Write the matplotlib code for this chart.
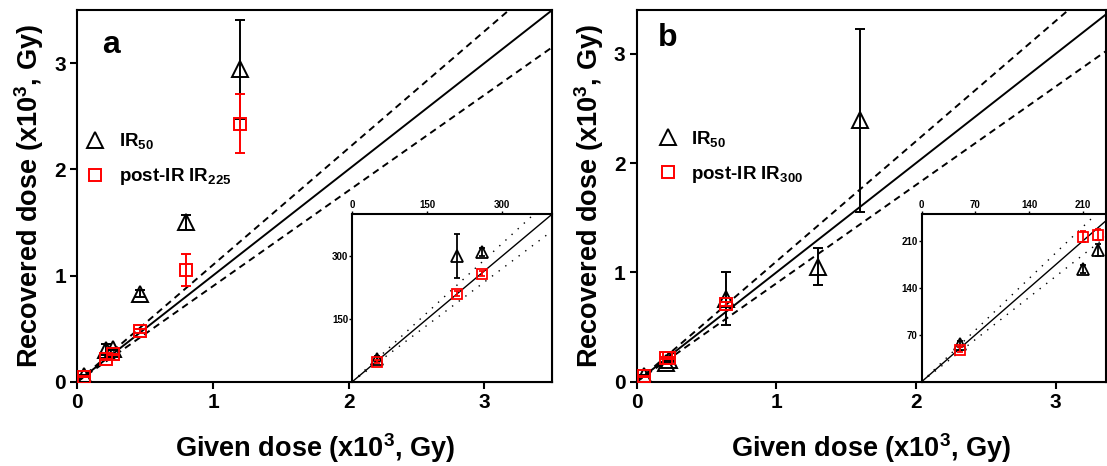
import matplotlib
matplotlib.use("Agg")
import matplotlib.pyplot as plt
import numpy as np

plt.rcParams['font.family'] = ['Liberation Sans', 'DejaVu Sans']
plt.rcParams['font.weight'] = 'bold'
plt.rcParams['mathtext.fontset'] = 'custom'
plt.rcParams['mathtext.rm'] = 'Liberation Sans:bold'
plt.rcParams['mathtext.bf'] = 'Liberation Sans:bold'
plt.rcParams['mathtext.it'] = 'Liberation Sans:bold'
plt.rcParams['mathtext.default'] = 'bf'

# ---------------- data (x10^3 Gy) ----------------
# panel a
given_a = [0.05, 0.21, 0.26, 0.46, 0.80, 1.20]
ir50_a = [0.055, 0.30, 0.31, 0.83, 1.50, 2.94]
ir50_a_err = [0.006, 0.052, 0.010, 0.03, 0.07, 0.47]
pir_a = [0.048, 0.21, 0.257, 0.48, 1.05, 2.43]
pir_a_err = [0.004, 0.006, 0.006, 0.02, 0.15, 0.28]
label_a = 'post-IR IR$_{225}$'

# panel b
given_b = [0.05, 0.21, 0.23, 0.64, 1.30, 1.60]
ir50_b = [0.056, 0.168, 0.197, 0.76, 1.05, 2.39]
ir50_b_err = [0.005, 0.006, 0.009, 0.24, 0.17, 0.84]
given_b_pir = [0.05, 0.21, 0.23, 0.64]
pir_b = [0.048, 0.216, 0.219, 0.71]
pir_b_err = [0.003, 0.008, 0.008, 0.02]
label_b = 'post-IR IR$_{300}$'

n_inset = 3  # first three points shown in Gy in the insets

main_xticks = [0, 1, 2, 3]
main_yticks = [0, 1, 2, 3]
inset_a_xticks = [0, 150, 300]
inset_a_yticks = [150, 300]
inset_b_xticks = [0, 70, 140, 210]
inset_b_yticks = [70, 140, 210]

W, H = 1107, 466
fig = plt.figure(figsize=(W / 100, H / 100), dpi=100)


def fr(l, r, t, b):
    return [l / W, 1 - b / H, (r - l) / W, (b - t) / H]


def style_main(ax, xmax, ymax):
    ax.set_xlim(0, xmax)
    ax.set_ylim(0, ymax)
    ax.set_xticks(main_xticks)
    ax.set_yticks(main_yticks)
    for s in ax.spines.values():
        s.set_linewidth(1.5)
    ax.tick_params(direction='out', length=5, width=1.5, labelsize=15, pad=3)
    for lab in ax.get_xticklabels() + ax.get_yticklabels():
        lab.set_fontweight('bold')
    ax.set_xlabel('Given dose (x10$^3$, Gy)', fontsize=19.5, fontweight='bold', labelpad=14)
    ax.set_ylabel('Recovered dose (x10$^3$, Gy)', fontsize=19.5, fontweight='bold', labelpad=6)


def ref_lines(ax, xmax, lw=1.4, dashed=(0, (3.5, 2.5))):
    xx = np.array([0, xmax * 1.2])
    ax.plot(xx, xx, color='black', lw=lw, zorder=1)
    ax.plot(xx, 1.1 * xx, color='black', lw=lw, ls=dashed, zorder=1)
    ax.plot(xx, 0.9 * xx, color='black', lw=lw, ls=dashed, zorder=1)


def data(ax, gx, y1, e1, gx2, y2, e2, scale=1.0, ms_t=12, ms_s=9, cap=3.5, lw=1.4):
    gx = np.asarray(gx) * scale
    gx2 = np.asarray(gx2) * scale
    ax.errorbar(gx, np.asarray(y1) * scale, yerr=np.asarray(e1) * scale, fmt='^',
                ms=ms_t, mfc='none', mec='black', mew=lw, ecolor='black',
                elinewidth=lw, capsize=cap, capthick=lw, zorder=3)
    ax.errorbar(gx2, np.asarray(y2) * scale, yerr=np.asarray(e2) * scale, fmt='s',
                ms=ms_s, mfc='none', mec='red', mew=lw, ecolor='red',
                elinewidth=lw, capsize=cap, capthick=lw, zorder=4)


def inset(axin, xmax, ymax, xt, yt):
    axin.set_xlim(0, xmax)
    axin.set_ylim(0, ymax)
    axin.set_xticks(xt)
    axin.set_yticks(yt)
    axin.xaxis.tick_top()
    axin.xaxis.set_label_position('top')
    for s in axin.spines.values():
        s.set_linewidth(1.5)
    axin.tick_params(direction='out', length=2, width=1, labelsize=7, pad=1)
    axin.set_facecolor('white')
    xx = np.array([0, xmax * 1.2])
    axin.plot(xx, xx, color='black', lw=1.0, zorder=1)
    axin.plot(xx, 1.1 * xx, color='black', lw=1.0, ls=(0, (1, 5)), zorder=1)
    axin.plot(xx, 0.9 * xx, color='black', lw=1.0, ls=(0, (1, 5)), zorder=1)


def legend(ax, x, y, label2):
    h1 = ax.plot([], [], '^', ms=12, mfc='none', mec='black', mew=1.4)[0]
    h2 = ax.plot([], [], 's', ms=9, mfc='none', mec='red', mew=1.4)[0]
    ax.legend([h1, h2], ['IR$_{50}$', label2], loc='upper left', bbox_to_anchor=(x, y),
              frameon=False, fontsize=13.5, handlelength=1.0, handletextpad=0.75,
              labelspacing=0.8, borderaxespad=0, borderpad=0)


# ---------- panel a ----------
axa = fig.add_axes(fr(77.3, 552.3, 10, 381.7))
ref_lines(axa, 3.5)
data(axa, given_a, ir50_a, ir50_a_err, given_a, pir_a, pir_a_err)
style_main(axa, 3.5, 3.5)
legend(axa, 0.018, 0.674, label_a)
axa.text(0.052, 0.905, 'a', transform=axa.transAxes, fontsize=23, fontweight='bold',
         va='center', ha='left')

ina = fig.add_axes(fr(352.3, 552.3, 214, 381.7))
inset(ina, 400, 400, inset_a_xticks, inset_a_yticks)
data(ina, given_a[:n_inset], ir50_a[:n_inset], ir50_a_err[:n_inset],
     given_a[:n_inset], pir_a[:n_inset], pir_a_err[:n_inset], scale=1000,
     ms_t=9, ms_s=7, cap=2.5, lw=1.3)

# ---------- panel b ----------
axb = fig.add_axes(fr(636.7, 1106, 10, 381.7))
ref_lines(axb, 3.36)
data(axb, given_b, ir50_b, ir50_b_err, given_b_pir, pir_b, pir_b_err)
style_main(axb, 3.36, 3.4)
legend(axb, 0.046, 0.68, label_b)
axb.text(0.045, 0.925, 'b', transform=axb.transAxes, fontsize=23, fontweight='bold',
         va='center', ha='left')

inb = fig.add_axes(fr(921.7, 1106, 214, 381.7))
inset(inb, 240, 250, inset_b_xticks, inset_b_yticks)
data(inb, given_b[:n_inset], ir50_b[:n_inset], ir50_b_err[:n_inset],
     given_b_pir[:n_inset], pir_b[:n_inset], pir_b_err[:n_inset], scale=1000,
     ms_t=9, ms_s=7, cap=2.5, lw=1.3)

fig.savefig('out.png', dpi=100)
